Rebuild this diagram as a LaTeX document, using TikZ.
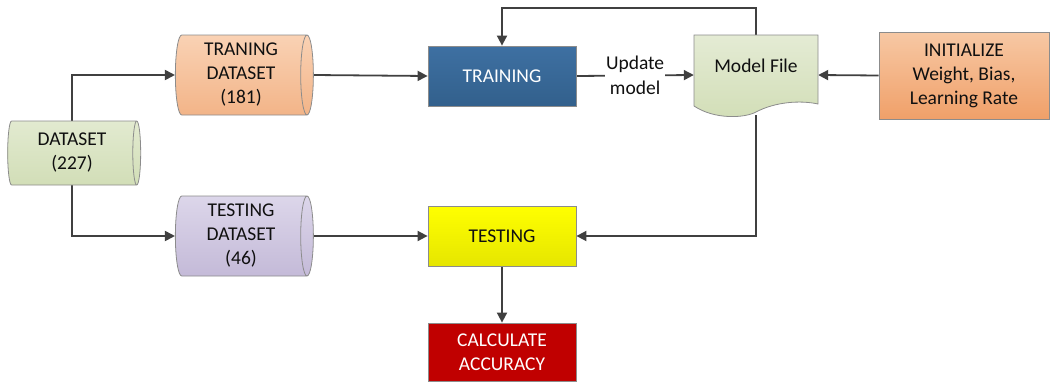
\documentclass[tikz,border=0pt]{standalone}
\usepackage{fontspec}
\setmainfont{Carlito}
\usetikzlibrary{shapes.geometric,arrows.meta,calc}
\pgfdeclarelayer{bg}
\pgfsetlayers{bg,main}
\definecolor{linec}{HTML}{404040}
\definecolor{bordc}{HTML}{8C8C8C}
\definecolor{txtc}{HTML}{101010}
\tikzset{
  every node/.style={font=\fontsize{19.5}{24}\selectfont, text=txtc, align=center},
  cyl/.style={cylinder, draw=bordc, line width=0.8pt, aspect=0.2, inner sep=0pt},
  boxn/.style={rectangle, draw=bordc, line width=0.8pt, inner sep=0pt},
  conn/.style={draw=linec, line width=1.8pt, -{Triangle[length=10pt,width=10pt]}},
}
\begin{document}
\begin{tikzpicture}[x=1pt,y=-1pt]
\useasboundingbox (0,0) rectangle (1053,383);
% datasets
\node[cyl, minimum height=133pt, minimum width=64pt, top color={rgb,255:red,226;green,234;blue,208}, bottom color={rgb,255:red,210;green,222;blue,183}] (ds) at (72,153) {DATASET\\(227)};
\node[cyl, minimum height=138pt, minimum width=80pt, top color={rgb,255:red,250;green,210;blue,180}, bottom color={rgb,255:red,242;green,180;blue,136}] (trd) at (241,75) {TRANING\\DATASET\\(181)};
\node[cyl, minimum height=138pt, minimum width=80pt, top color={rgb,255:red,220;green,214;blue,234}, bottom color={rgb,255:red,196;green,186;blue,216}] (ted) at (241,236) {TESTING\\DATASET\\(46)};
% processes
\node[boxn, minimum width=148pt, minimum height=60pt, top color={rgb,255:red,62;green,112;blue,162}, bottom color={rgb,255:red,50;green,96;blue,140}, text=white] (train) at (502,76) {TRAINING};
\node[boxn, minimum width=148pt, minimum height=60pt, top color={rgb,255:red,255;green,255;blue,0}, bottom color={rgb,255:red,230;green,230;blue,0}] (test) at (502,236) {TESTING};
\node[boxn, minimum width=148pt, minimum height=58pt, fill={rgb,255:red,192;green,0;blue,0}, text=white] (calc) at (502,352) {CALCULATE\\ACCURACY};
\node[boxn, minimum width=170pt, minimum height=87pt, top color={rgb,255:red,247;green,200;blue,164}, bottom color={rgb,255:red,240;green,160;blue,105}] (init) at (964,75.5) {INITIALIZE\\Weight, Bias,\\Learning Rate};
% model file (document shape)
\node[minimum width=124pt, minimum height=80pt, inner sep=0pt] (model) at (756,75) {};
\path[draw=bordc, line width=0.8pt, top color={rgb,255:red,228;green,235;blue,212}, bottom color={rgb,255:red,210;green,222;blue,183}]
  (694,35) -- (818,35) -- (818,104)
  .. controls (800,100) and (775,102) .. (756,112)
  .. controls (745,118) and (715,120) .. (694,106) -- cycle;
\node at (756,66) {Model File};
% connectors
\coordinate (fb) at (train.north |- 0,8);
\begin{pgfonlayer}{bg}
\draw[conn] (ds.north) |- (trd.west);
\draw[conn] (ds.south) |- (ted.west);
\draw[conn] (trd.east) -- (train.west);
\draw[conn] (ted.east) -- (test.west);
\draw[conn] (train.east) -- node[fill=white, inner sep=1pt, font=\fontsize{19.5}{25}\selectfont] (upd) {Update\\model} (model.west);
\draw[conn] (model.north) |- (fb) -- (train.north);
\draw[conn] (init.west) -- (model.east);
\draw[conn] (model.south) |- (test.east);
\draw[conn] (test.south) -- (calc.north);
\end{pgfonlayer}
\end{tikzpicture}
\end{document}
